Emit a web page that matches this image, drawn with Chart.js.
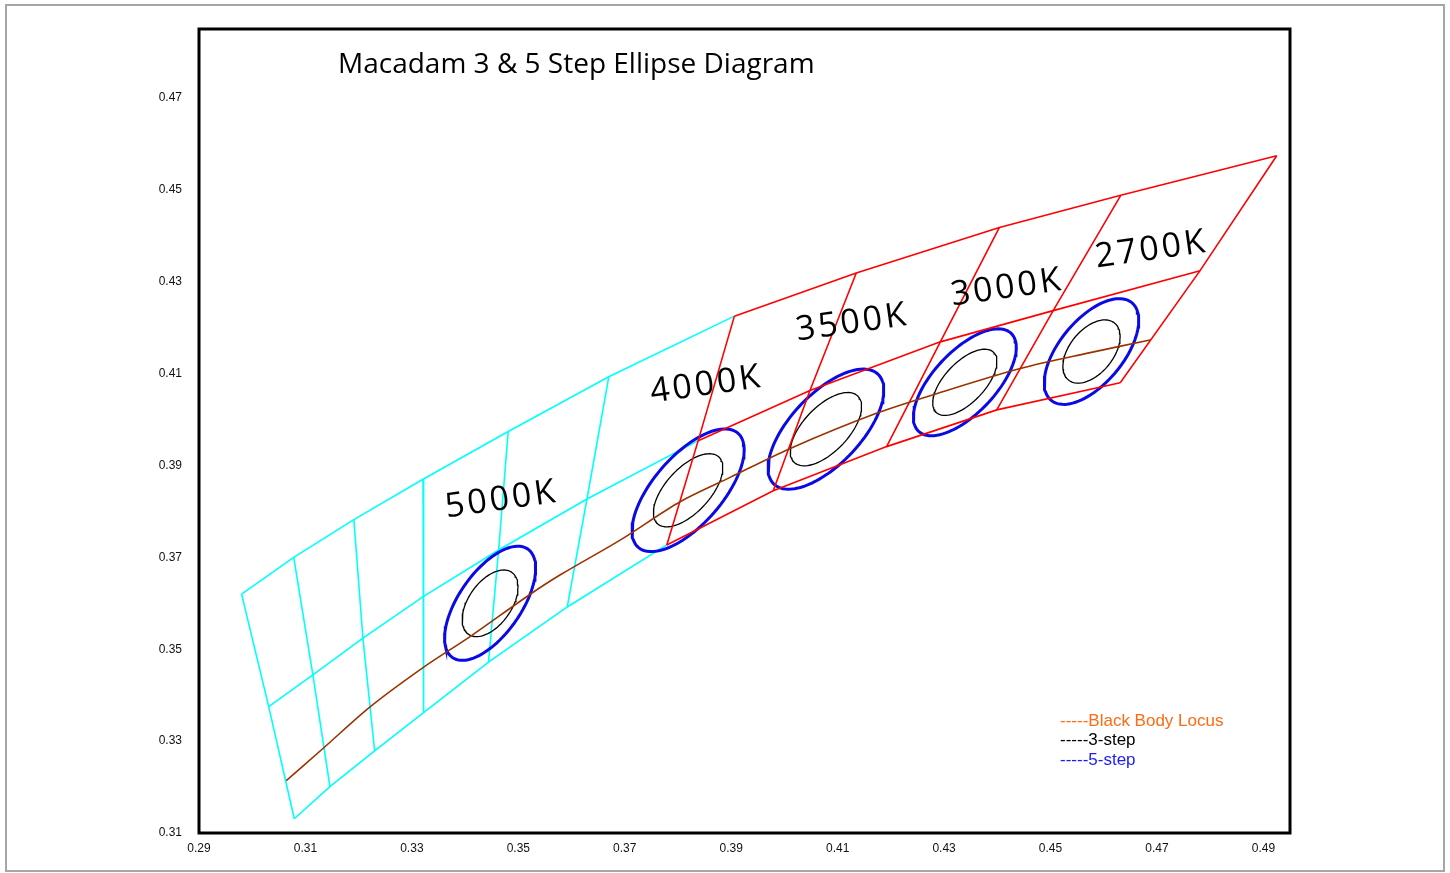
<!DOCTYPE html>
<html>
<head>
<meta charset="utf-8">
<title>Macadam 3 & 5 Step Ellipse Diagram</title>
<script src="https://cdn.jsdelivr.net/npm/chart.js@4.4.1/dist/chart.umd.min.js"></script>
<style>
	html, body { margin: 0; padding: 0; background: #fff; }
	#wrap { position: relative; width: 1450px; height: 873px; }
	#mycanvas { position: absolute; left: 0; top: 0; }
	#frame { position: absolute; left: 5px; top: 4px; width: 1436px; height: 864px; border: 2px solid #a6a6a6; pointer-events: none; }
</style>
</head>
<body>
<div id="wrap">
	<canvas id="mycanvas" width="1450" height="873"></canvas>
	<div id="frame"></div>
</div>
<script>
var chartTitle = "Macadam 3 & 5 Step Ellipse Diagram";
var xTicks = [0.29, 0.31, 0.33, 0.35, 0.37, 0.39, 0.41, 0.43, 0.45, 0.47, 0.49];
var yTicks = [0.31, 0.33, 0.35, 0.37, 0.39, 0.41, 0.43, 0.45, 0.47];

// quadrangle grid rows (x, y) - cyan part then red part
var cyanTop = [[0.2980, 0.3620], [0.3078, 0.3700], [0.3191, 0.3782], [0.3321, 0.3870], [0.3481, 0.3974], [0.3670, 0.4093], [0.3906, 0.4225]];
var cyanMid = [[0.3031, 0.3375], [0.3114, 0.3444], [0.3208, 0.3524], [0.3322, 0.3615], [0.3463, 0.3716], [0.3629, 0.3827], [0.3838, 0.3954]];
var cyanBot = [[0.3079, 0.3131], [0.3146, 0.3201], [0.3230, 0.3279], [0.3322, 0.3362], [0.3444, 0.3472], [0.3592, 0.3592], [0.3779, 0.3727]];
var redTop = [[0.3906, 0.4225], [0.4135, 0.4319], [0.4404, 0.4418], [0.4632, 0.4488], [0.4925, 0.4574]];
var redMid = [[0.3838, 0.3954], [0.4048, 0.4063], [0.4293, 0.4169], [0.4505, 0.4237], [0.4781, 0.4324]];
var redBot = [[0.3779, 0.3727], [0.3979, 0.3845], [0.4192, 0.3941], [0.4399, 0.4021], [0.4631, 0.4080]];

// black body locus
var locusX = [0.3064, 0.3134, 0.3222, 0.3321, 0.3410, 0.3519, 0.3579, 0.3692, 0.3804, 0.3898, 0.4011, 0.4174, 0.4299, 0.4443, 0.4568, 0.4687];
var locusY = [0.3214, 0.3285, 0.3375, 0.3460, 0.3528, 0.3617, 0.3662, 0.3738, 0.3821, 0.3874, 0.3937, 0.4014, 0.4061, 0.4111, 0.4144, 0.4173];

// ellipses: centre, semi axes and tilt (deg)
var cctNames = ["5000K", "4000K", "3500K", "3000K", "2700K"];
var ellipseX = [0.3447, 0.3819, 0.4078, 0.4339, 0.4577];
var ellipseY = [0.3600, 0.3846, 0.3979, 0.4081, 0.4148];
var step3A = [0.0079, 0.0093, 0.0094, 0.0085, 0.0076];
var step3B = [0.0042, 0.0044, 0.0045, 0.0040, 0.0043];
var step3Angle = [62, 54, 53, 53, 59];
var step5A = [0.0138, 0.0156, 0.0155, 0.0138, 0.0131];
var step5B = [0.0061, 0.0068, 0.0070, 0.0062, 0.0063];
var step5Angle = [61, 55, 53, 53, 57];

// CCT label anchors
var labelX = [0.3466, 0.3851, 0.4125, 0.4416, 0.4687];
var labelY = [0.3825, 0.4075, 0.4210, 0.4286, 0.4369];

var legendText = ["-----Black Body Locus", "-----3-step", "-----5-step"];
var legendColor = ["#ff6a13", "#000000", "#1a1aff"];

function pts(arr) {
	return arr.map(function(p) { return {x: p[0], y: p[1]}; });
}

function ellipsePts(cx, cy, a, b, deg) {
	var th = deg * Math.PI / 180, out = [];
	for (var i = 0; i <= 96; i++) {
		var t = i / 96 * 2 * Math.PI;
		out.push({
			x: cx + a * Math.cos(th) * Math.cos(t) - b * Math.sin(th) * Math.sin(t),
			y: cy + a * Math.sin(th) * Math.cos(t) + b * Math.cos(th) * Math.sin(t)
		});
	}
	return out;
}

function lineSet(data, color, width) {
	return { data: data, showLine: true, borderColor: color, borderWidth: width, pointRadius: 0, fill: false, tension: 0 };
}

var datasets = [];
// cyan grid
[cyanTop, cyanMid, cyanBot].forEach(function(row) { datasets.push(lineSet(pts(row), "#00ffff", 1.6)); });
for (var i = 0; i < cyanTop.length - 1; i++) {
	datasets.push(lineSet(pts([cyanTop[i], cyanMid[i], cyanBot[i]]), "#00ffff", 1.6));
}
// blue 5-step and black 3-step
for (var i = 0; i < cctNames.length; i++) {
	datasets.push(lineSet(ellipsePts(ellipseX[i], ellipseY[i], step5A[i], step5B[i], step5Angle[i]), "#0a0ae6", 3));
}
for (var i = 0; i < cctNames.length; i++) {
	datasets.push(lineSet(ellipsePts(ellipseX[i], ellipseY[i], step3A[i], step3B[i], step3Angle[i]), "#000000", 1.3));
}
// red grid
[redTop, redMid, redBot].forEach(function(row) { datasets.push(lineSet(pts(row), "#ff0000", 1.6)); });
for (var i = 0; i < redTop.length; i++) {
	datasets.push(lineSet(pts([redTop[i], redMid[i], redBot[i]]), "#ff0000", 1.6));
}
// locus
var locus = lineSet(locusX.map(function(x, k) { return {x: x, y: locusY[k]}; }), "#993300", 1.6);
locus.tension = 0.3;
datasets.push(locus);
// first dataset drawn on top in chart.js, so set order explicitly
datasets.forEach(function(d, k) { d.order = datasets.length - k; });

var overlay = {
	id: "overlay",
	afterDatasetsDraw: function(chart) {
		var ctx = chart.ctx, a = chart.chartArea;
		var xs = chart.scales.x, ys = chart.scales.y;
		ctx.save();
		ctx.strokeStyle = "#000";
		ctx.lineWidth = 3;
		ctx.strokeRect(a.left, a.top, a.right - a.left, a.bottom - a.top);

		ctx.fillStyle = "#000";
		ctx.textAlign = "left";
		ctx.textBaseline = "alphabetic";
		ctx.font = '28px "Open Sans"';
		ctx.fillText(chartTitle, a.left + 139, a.top + 44);

		ctx.font = '34px "Open Sans"';
		ctx.letterSpacing = "3px";
		ctx.textAlign = "center";
		ctx.textBaseline = "middle";
		for (var i = 0; i < cctNames.length; i++) {
			ctx.save();
			ctx.translate(xs.getPixelForValue(labelX[i]) + 1.5, ys.getPixelForValue(labelY[i]));
			ctx.rotate(-8 * Math.PI / 180);
			ctx.fillText(cctNames[i], 0, 0);
			ctx.restore();
		}
		ctx.letterSpacing = "0px";

		ctx.font = '17px "Liberation Sans"';
		ctx.textAlign = "left";
		for (var j = 0; j < legendText.length; j++) {
			ctx.fillStyle = legendColor[j];
			ctx.fillText(legendText[j], a.right - 230, a.bottom - 112 + j * 19.5);
		}
		ctx.restore();
	}
};

var ctx = document.getElementById("mycanvas");
var chart = new Chart(ctx, {
	type: "scatter",
	data: { datasets: datasets },
	options: {
		responsive: false,
		animation: false,
		layout: { padding: { left: 0, right: 160, top: 29, bottom: 0 } },
		plugins: { legend: { display: false }, tooltip: { enabled: false } },
		scales: {
			x: {
				type: "linear", min: 0.29, max: 0.495,
				grid: { display: false }, border: { display: false },
				afterBuildTicks: function(s) { s.ticks = xTicks.map(function(v) { return {value: v}; }); },
				afterFit: function(s) { s.height = 40; },
				ticks: { padding: 0, color: "#111", font: { family: "Liberation Sans", size: 12 },
					callback: function(v) { return v.toFixed(2); } }
			},
			y: {
				type: "linear", min: 0.31, max: 0.485,
				grid: { display: false }, border: { display: false },
				afterBuildTicks: function(s) { s.ticks = yTicks.map(function(v) { return {value: v}; }); },
				afterFit: function(s) { s.width = 199; },
				ticks: { padding: 9, color: "#111", font: { family: "Liberation Sans", size: 12 },
					callback: function(v) { return v.toFixed(2); } }
			}
		}
	},
	plugins: [overlay]
});
</script>
</body>
</html>
